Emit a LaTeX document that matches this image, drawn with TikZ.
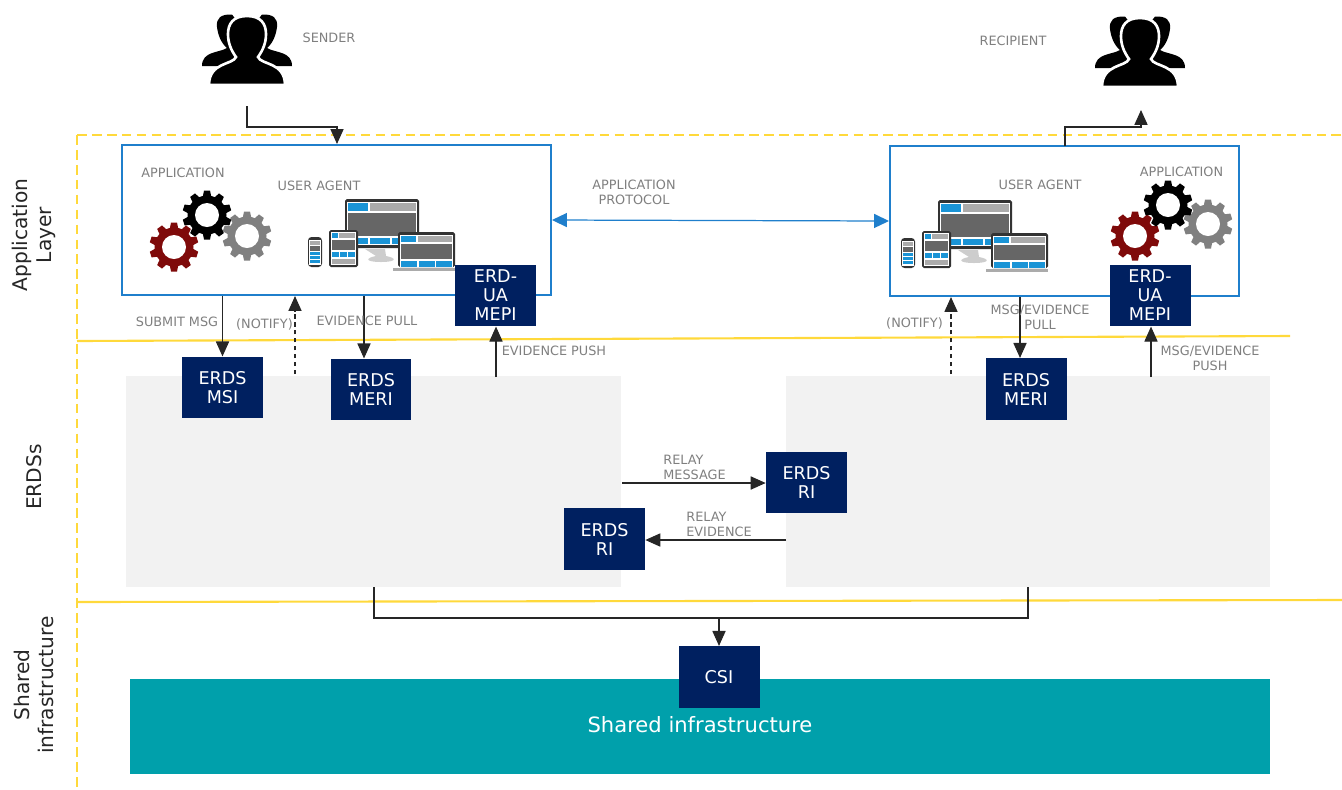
\documentclass[tikz,border=0pt]{standalone}
\usepackage{fontspec}
\setmainfont{DejaVu Sans}
\usepackage{tikz}
\usetikzlibrary{arrows.meta}
\definecolor{navyBox}{HTML}{002060}
\definecolor{tealBar}{HTML}{00A0AB}
\definecolor{greyArea}{HTML}{F2F2F2}
\definecolor{labelGrey}{HTML}{7F7F7F}
\definecolor{layerYellow}{HTML}{FFD93B}
\definecolor{agentBlue}{HTML}{1F7FCC}
\definecolor{screenBlue}{HTML}{1A94D6}
\definecolor{gearRed}{HTML}{7F0A0A}
\definecolor{gearGrey}{HTML}{808080}
\definecolor{screenDark}{HTML}{666666}
\definecolor{screenLight}{HTML}{ABABAB}
\tikzset{
  erdsbox/.style={fill=navyBox,text=white,align=center,inner sep=0pt,minimum width=1.62cm,minimum height=1.23cm,font=\fontsize{10}{10.8}\selectfont},
  lbl/.style={text=labelGrey,align=center,inner sep=0pt,font=\fontsize{7.3}{8.5}\selectfont},
  lbll/.style={lbl,align=left},
  layerlbl/.style={text=black!85,align=center,inner sep=0pt,rotate=90,font=\fontsize{11.5}{14}\selectfont},
  flow/.style={draw=black!85,line width=0.6pt,-{Triangle[length=8.5pt,width=7.5pt]}},
  flowplain/.style={draw=black!85,line width=0.6pt},
  flowdash/.style={flow,dash pattern=on 2.5pt off 2pt},
  layerline/.style={draw=layerYellow,line width=1.2pt},
  layerdash/.style={layerline,dash pattern=on 5.5pt off 3pt},
  agentbox/.style={draw=agentBlue,line width=1.2pt,inner sep=0pt},
}
\tikzset{
  pics/gearwheel/.style={code={
    \fill[#1] (0,0) circle (19.5);
    \foreach \a in {0,36,...,324}
      \fill[#1,rotate=\a] (-4.5,-17) -- (-3,-24.5) -- (3,-24.5) -- (4.5,-17) -- cycle;
    \fill[white] (0,0) circle (12);
  }},
  pics/person/.style={code={
    % the two behind
    \foreach \s in {1,-1}
      \fill[black,xscale=\s] (-15,-69.5) .. controls (-26,-70) and (-31,-66) .. (-30,-57) .. controls (-29,-49) and (-26,-41) .. (-20,-36) .. controls (-28,-31) and (-45,-33) .. (-45,-18) -- (0,-18) -- (0,-50) -- cycle;
    % the front one
    \fill[black,draw=white,line width=1.5pt] (0,-68) .. controls (-14,-68) and (-19,-60) .. (-19,-50) .. controls (-19,-41) and (-16,-34) .. (-11,-27) .. controls (-14,-19) and (-38,-22) .. (-38,1) -- (38,1) .. controls (38,-22) and (14,-19) .. (11,-27) .. controls (16,-34) and (19,-41) .. (19,-50) .. controls (19,-60) and (14,-68) .. (0,-68) -- cycle;
  }},
  pics/devices/.style={code={
    % monitor
    \fill[screenLight!60] (20,50) -- (32,50) -- (40,50) -- (41,57) .. controls (52,59) and (52,63) .. (36,63) .. controls (20,63) and (20,59) .. (31,57) -- cycle;
    \fill[black!80,rounded corners=1pt] (0,0) rectangle (74,49);
    \fill[white] (2,3) rectangle (72,46);
    \fill[screenBlue] (3,4) rectangle (23,12);
    \fill[screenLight] (25,4) rectangle (71,12);
    \fill[screenDark] (3,14) rectangle (71,37);
    \foreach \x in {3,25,47}
      \fill[screenBlue] (\x,39) rectangle ++(20,6);
    % tablet
    \fill[black!80,rounded corners=1pt] (-16,31) rectangle (13,68);
    \fill[white] (-14,33) rectangle (11,66);
    \fill[screenBlue] (-13,34) rectangle (-7,39);
    \fill[screenLight] (-6,34) rectangle (10,39);
    \fill[screenDark] (-13,41) rectangle (10,51);
    \foreach \x in {-13,-5,3}
      \fill[screenBlue] (\x,53) rectangle ++(7,5);
    \fill[screenLight] (-13,60) rectangle (10,65);
    % phone
    \fill[black!80,rounded corners=2pt] (-37,38) rectangle (-23,68);
    \fill[white] (-36,41) rectangle (-24,66);
    \fill[screenLight] (-35,42) rectangle (-25,46);
    \fill[screenDark] (-35,47) rectangle (-25,52);
    \foreach \y in {53,57,61}
      \fill[screenBlue] (-35,\y) rectangle ++(10,3);
    % laptop
    \fill[black!80,rounded corners=1pt] (53,33) rectangle (110,68);
    \fill[white] (55,36) rectangle (108,68);
    \fill[screenBlue] (56,37) rectangle (71,43);
    \fill[screenLight] (73,37) rectangle (107,43);
    \fill[screenDark] (56,45) rectangle (107,60);
    \foreach \x in {56,74,91}
      \fill[screenBlue] (\x,62) rectangle ++(16,6);
    \fill[screenLight] (48,69) rectangle (110,72);
  }},
}

\begin{document}
\begin{tikzpicture}[x=0.02cm,y=-0.02cm]
\useasboundingbox (0,0) rectangle (1342,789);

% grey ERDS areas
\fill[greyArea] (126,376) rectangle (621,587);
\fill[greyArea] (786,376) rectangle (1270,587);

% layers
\draw[layerdash] (77,135) -- (1345,135);
\draw[layerdash] (77,135) -- (77,789);
\draw[layerline] (77,341) -- (1290,336);
\draw[layerline] (77,602) -- (1342,600);

\node[layerlbl] (appLayer) at (34,235) {Application\\Layer};
\node[layerlbl] (erdsLayer) at (34,477) {ERDSs};
\node[layerlbl] (sharedLayer) at (34,685) {Shared\\infrastructure};

% shared infrastructure bar
\node[fill=tealBar,inner sep=0pt,minimum width=22.8cm,minimum height=1.9cm] (sharedBar) at (700,726.5) {};
\node[text=white,inner sep=0pt,font=\fontsize{12}{14}\selectfont] (sharedText) at (700,725) {Shared infrastructure};

% user agent boxes
\node[agentbox,minimum width=8.58cm,minimum height=3cm] (agentL) at (336.5,220) {};
\node[agentbox,minimum width=6.98cm,minimum height=3cm] (agentR) at (1064.5,221) {};

% people
\pic at (247,84) {person};
\pic at (1140,86) {person};

% gears
\pic at (174,247) {gearwheel=gearRed};
\pic at (247,236) {gearwheel=gearGrey};
\pic at (207,215) {gearwheel=black};
\pic at (1135,236) {gearwheel=gearRed};
\pic at (1208,224) {gearwheel=gearGrey};
\pic at (1168,205) {gearwheel=black};

% devices
\pic at (345,199) {devices};
\pic at (938,200) {devices};

% interfaces
\node[erdsbox] (mepiL) at (495.5,295.5) {ERD-\\UA\\MEPI};
\node[erdsbox] (mepiR) at (1150,295.5) {ERD-\\UA\\MEPI};
\node[erdsbox] (msiL) at (222.5,387.5) {ERDS\\MSI};
\node[erdsbox] (meriL) at (371,389.5) {ERDS\\MERI};
\node[erdsbox] (meriR) at (1026,389) {ERDS\\MERI};
\node[erdsbox] (riR) at (806.5,482.5) {ERDS\\RI};
\node[erdsbox] (riL) at (604.5,539) {ERDS\\RI};
\node[erdsbox] (csi) at (719,677) {CSI};

% free ends
\coordinate (senderOut) at (247,106);
\coordinate (senderTurn) at (337,127);
\coordinate (recipientOut) at (1065,146);
\coordinate (recipientTurn) at (1141,127);
\coordinate (recipientIn) at (1141,110);
\coordinate (notifyL) at (295,374);
\coordinate (notifyR) at (951,374);
\coordinate (pullL) at (364,0);
\coordinate (pullR) at (1020,0);
\coordinate (pushL) at (496,377);
\coordinate (pushR) at (1151,377);
\coordinate (relayMsgOut) at (622,483);
\coordinate (relayEvOut) at (786,540);
\coordinate (busL) at (374,587);
\coordinate (busR) at (1028,587);
\coordinate (busMid) at (719,618);

% connectors
\draw[flow] (senderOut) |- (senderTurn) -- (senderTurn |- agentL.north);
\draw[flow] (recipientOut) |- (recipientTurn) -- (recipientIn);
\draw[draw=agentBlue,line width=0.7pt,{Triangle[length=8.5pt,width=8pt]}-{Triangle[length=8.5pt,width=8pt]}] (agentL.east) -- (agentR.west);
\draw[flow] (agentL.south -| msiL) -- (msiL.north);
\draw[flowdash] (notifyL) -- (notifyL |- agentL.south);
\draw[flow] (agentL.south -| pullL) -- (meriL.north -| pullL);
\draw[flow] (pushL) -- (pushL |- mepiL.south);
\draw[flowdash] (notifyR) -- (notifyR |- agentR.south);
\draw[flow] (agentR.south -| pullR) -- (meriR.north -| pullR);
\draw[flow] (pushR) -- (pushR |- mepiR.south);
\draw[flow] (relayMsgOut) -- (riR.west |- relayMsgOut);
\draw[flow] (relayEvOut) -- (riL.east |- relayEvOut);
\draw[flowplain] (busL) |- (busMid) -| (busR);
\draw[flow] (busMid) -- (csi.north);

% labels
\node[lbl] (senderLabel) at (329,38) {SENDER};
\node[lbl] (recipientLabel) at (1013,41) {RECIPIENT};
\node[lbl] (appLabelL) at (183,172.5) {APPLICATION};
\node[lbl] (uaLabelL) at (319,186) {USER AGENT};
\node[lbl] (uaLabelR) at (1040,184.5) {USER AGENT};
\node[lbl] (appLabelR) at (1181.5,171.5) {APPLICATION};
\node[lbl] (protocolLabel) at (634,192) {APPLICATION\\PROTOCOL};
\node[lbl] (submitLabel) at (177,322) {SUBMIT MSG};
\node[lbl] (notifyLabelL) at (264.5,324) {(NOTIFY)};
\node[lbl] (pullLabelL) at (367,321) {EVIDENCE PULL};
\node[lbl] (pushLabelL) at (554,351) {EVIDENCE PUSH};
\node[lbl] (notifyLabelR) at (914.5,323) {(NOTIFY)};
\node[lbl] (pullLabelR) at (1040,317.5) {MSG/EVIDENCE\\PULL};
\node[lbl] (pushLabelR) at (1210,358) {MSG/EVIDENCE\\PUSH};
\node[lbll,anchor=west] (relayMsgLabel) at (663,467.5) {RELAY\\MESSAGE};
\node[lbll,anchor=west] (relayEvLabel) at (686,524.5) {RELAY\\EVIDENCE};
\end{tikzpicture}
\end{document}
